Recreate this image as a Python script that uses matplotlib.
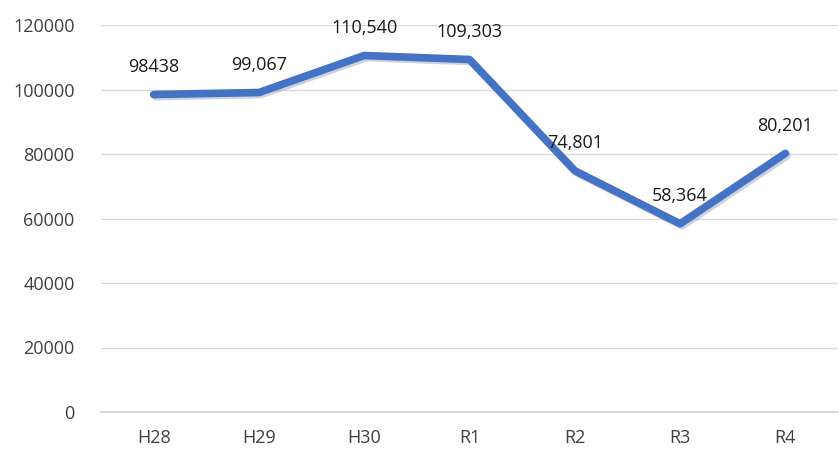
import matplotlib
matplotlib.use("Agg")
import matplotlib.pyplot as plt
import matplotlib.patheffects as pe

# yearly totals
years = ["H28", "H29", "H30", "R1", "R2", "R3", "R4"]
totals = [98438, 99067, 110540, 109303, 74801, 58364, 80201]
labels = ["98438", "99,067", "110,540", "109,303", "74,801", "58,364", "80,201"]
yticks = [0, 20000, 40000, 60000, 80000, 100000, 120000]

plt.rcParams["font.family"] = ["Open Sans", "DejaVu Sans"]

fig = plt.figure(figsize=(8.39, 4.51), dpi=100)
ax = fig.add_axes([101 / 839, 1 - 412 / 451, 737 / 839, 387 / 451])

x = list(range(len(years)))
ax.plot(x, totals, color="#4472C4", linewidth=5.5, solid_capstyle="round",
        solid_joinstyle="round", zorder=3,
        path_effects=[pe.SimpleLineShadow(offset=(1.5, -1.5), shadow_color="#9aa6bd", alpha=0.5),
                      pe.Normal()])

for xi, v, lab in zip(x, totals, labels):
    ax.annotate(lab, (xi, v), xytext=(0, 20), textcoords="offset points",
                ha="center", va="center", fontsize=13, color="#1a1a1a", zorder=4)

ax.set_xlim(-0.5, len(years) - 0.5)
ax.set_ylim(0, 120000)
ax.set_xticks(x)
ax.set_xticklabels(years)
ax.set_yticks(yticks)
ax.set_yticklabels([str(t) for t in yticks])
ax.tick_params(axis="both", length=0, labelsize=13, labelcolor="#404040")
ax.tick_params(axis="y", pad=19)
ax.tick_params(axis="x", pad=12)
ax.grid(axis="y", color="#d9d9d9", linewidth=1)
ax.set_axisbelow(True)
for s in ax.spines.values():
    s.set_visible(False)
ax.spines["bottom"].set_visible(True)
ax.spines["bottom"].set_color("#d0d0d0")
ax.spines["bottom"].set_linewidth(1.2)

fig.savefig("out.png", dpi=100)
